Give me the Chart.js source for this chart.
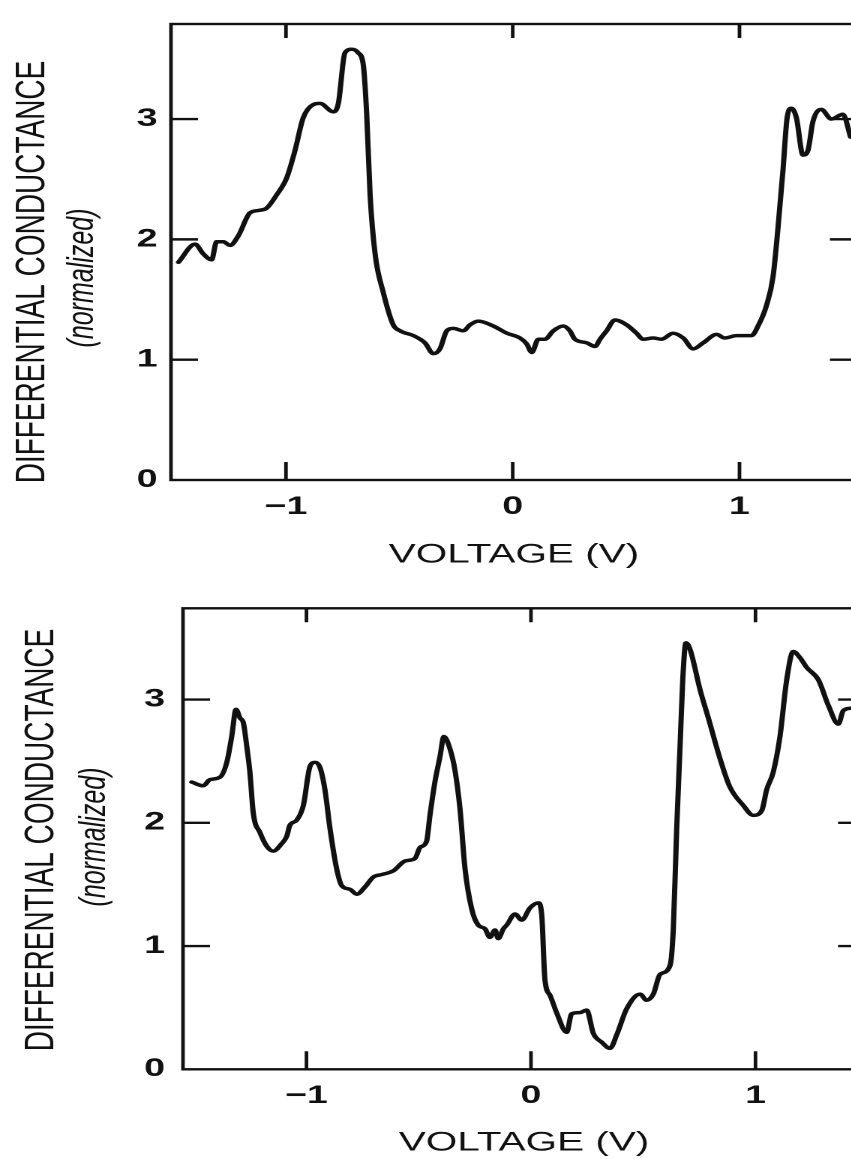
<!DOCTYPE html>
<html>
<head>
<meta charset="utf-8">
<script src="https://cdn.jsdelivr.net/npm/chart.js@4.4.1/dist/chart.umd.min.js"></script>
<style>
  html, body { margin: 0; padding: 0; background: #fff; overflow: hidden; width: 851px; height: 1159px; }
  canvas { position: absolute; left: 0; }
</style>
</head>
<body>
<!-- the scanned figure is stretched sideways, so each canvas is drawn narrow and widened by css -->
<canvas id="topChart" width="600" height="580" style="top:0;width:900px;height:580px"></canvas>
<canvas id="bottomChart" width="600" height="579" style="top:580px;width:900px;height:579px"></canvas>
<script>
const xTickValues = [-1, 0, 1];
const yTickValues = [0, 1, 2, 3];

// upper panel: voltage (V) and normalized differential conductance
const topVoltage = [
  -1.474, -1.401, -1.365, -1.328, -1.306, -1.276, -1.247, -1.210, -1.159, -1.122,
  -1.085, -1.041, -0.997, -0.960, -0.924, -0.880, -0.850, -0.791, -0.769, -0.740,
  -0.710, -0.681, -0.659, -0.644, -0.629, -0.607, -0.571, -0.527, -0.497, -0.438,
  -0.387, -0.350, -0.321, -0.291, -0.262, -0.218, -0.188, -0.152, -0.086, -0.026,
  0.032, 0.062, 0.084, 0.113, 0.142, 0.179, 0.223, 0.252, 0.274, 0.326,
  0.363, 0.385, 0.414, 0.451, 0.502, 0.546, 0.575, 0.619, 0.656, 0.707,
  0.752, 0.796, 0.840, 0.899, 0.935, 0.987, 1.053, 1.082, 1.119, 1.148,
  1.170, 1.192, 1.210, 1.229, 1.251, 1.280, 1.302, 1.324, 1.361, 1.405,
  1.456, 1.490
];
const topConductance = [
  1.81, 1.96, 1.88, 1.83, 1.98, 1.98, 1.95, 2.03, 2.22, 2.24,
  2.26, 2.37, 2.51, 2.74, 3.01, 3.12, 3.13, 3.06, 3.13, 3.55,
  3.58, 3.55, 3.45, 3.04, 2.37, 1.88, 1.56, 1.29, 1.24, 1.20,
  1.14, 1.05, 1.09, 1.24, 1.26, 1.24, 1.29, 1.32, 1.28, 1.22,
  1.18, 1.13, 1.06, 1.17, 1.17, 1.24, 1.28, 1.24, 1.17, 1.14,
  1.11, 1.17, 1.24, 1.33, 1.29, 1.22, 1.17, 1.18, 1.17, 1.22,
  1.18, 1.09, 1.14, 1.21, 1.18, 1.20, 1.20, 1.28, 1.45, 1.69,
  2.10, 2.58, 3.01, 3.09, 3.01, 2.70, 2.74, 2.98, 3.08, 3.00,
  3.04, 2.85
];

// lower panel
const bottomVoltage = [
  -1.511, -1.460, -1.430, -1.385, -1.355, -1.333, -1.314, -1.296, -1.281, -1.266,
  -1.252, -1.237, -1.207, -1.177, -1.148, -1.111, -1.088, -1.074, -1.044, -1.014,
  -0.984, -0.962, -0.940, -0.918, -0.895, -0.866, -0.843, -0.806, -0.776, -0.739,
  -0.702, -0.665, -0.613, -0.561, -0.517, -0.494, -0.465, -0.450, -0.428, -0.405,
  -0.388, -0.361, -0.339, -0.316, -0.294, -0.264, -0.235, -0.205, -0.183, -0.160,
  -0.146, -0.123, -0.108, -0.071, -0.041, -0.004, 0.033, 0.048, 0.062, 0.085,
  0.114, 0.159, 0.181, 0.218, 0.248, 0.278, 0.315, 0.352, 0.382, 0.426,
  0.486, 0.515, 0.545, 0.575, 0.619, 0.634, 0.649, 0.664, 0.676, 0.690,
  0.708, 0.753, 0.790, 0.842, 0.886, 0.946, 0.990, 1.028, 1.050, 1.079,
  1.109, 1.139, 1.168, 1.198, 1.228, 1.280, 1.325, 1.369, 1.391, 1.425
];
const bottomConductance = [
  2.33, 2.30, 2.35, 2.37, 2.49, 2.70, 2.92, 2.85, 2.81, 2.62,
  2.41, 2.08, 1.92, 1.81, 1.77, 1.83, 1.89, 1.98, 2.02, 2.14,
  2.46, 2.49, 2.45, 2.27, 1.95, 1.63, 1.49, 1.46, 1.42, 1.48,
  1.56, 1.58, 1.61, 1.69, 1.71, 1.80, 1.85, 2.06, 2.33, 2.54,
  2.70, 2.60, 2.43, 2.11, 1.63, 1.30, 1.17, 1.14, 1.07, 1.13,
  1.06, 1.14, 1.17, 1.26, 1.21, 1.31, 1.35, 1.25, 0.73, 0.60,
  0.46, 0.30, 0.45, 0.46, 0.48, 0.29, 0.22, 0.17, 0.28, 0.49,
  0.61, 0.56, 0.61, 0.77, 0.84, 1.14, 1.95, 2.62, 3.16, 3.46,
  3.41, 3.08, 2.85, 2.52, 2.29, 2.14, 2.06, 2.10, 2.27, 2.41,
  2.70, 3.16, 3.39, 3.34, 3.26, 3.16, 2.95, 2.80, 2.91, 2.93
];

const FONT = '"Liberation Sans", Arial, Helvetica, sans-serif';
const INK = '#111';

// box round the plot, inward ticks on all four sides, two-line y title
const framePlugin = {
  id: 'frame',
  afterDraw(chart, args, opts) {
    const { ctx, chartArea: a, scales: { x, y } } = chart;
    ctx.save();
    ctx.strokeStyle = INK;
    ctx.lineWidth = 2.4;
    ctx.strokeRect(a.left, a.top, a.right - a.left, a.bottom - a.top);
    ctx.beginPath();
    xTickValues.forEach(v => {
      const px = x.getPixelForValue(v);
      ctx.moveTo(px, a.bottom); ctx.lineTo(px, a.bottom - 18);
      ctx.moveTo(px, a.top); ctx.lineTo(px, a.top + 14);
    });
    yTickValues.forEach(v => {
      if (v === 0) return;
      const py = y.getPixelForValue(v);
      ctx.moveTo(a.left, py); ctx.lineTo(a.left + 18, py);
      ctx.moveTo(a.right, py); ctx.lineTo(a.right - 18, py);
    });
    ctx.stroke();

    ctx.fillStyle = INK;
    ctx.textAlign = 'center';
    ctx.textBaseline = 'middle';
    ctx.translate(opts.titleX, opts.titleY);
    ctx.rotate(-Math.PI / 2);
    ctx.font = '28px ' + FONT;
    ctx.fillText('DIFFERENTIAL CONDUCTANCE', 0, 0);
    ctx.rotate(Math.PI / 2);
    ctx.translate(opts.subX - opts.titleX, opts.subY - opts.titleY);
    ctx.rotate(-Math.PI / 2);
    ctx.font = 'italic 25px ' + FONT;
    ctx.fillText('(normalized)', 0, 0);
    ctx.restore();
  }
};

function makePanel(id, volts, cond, cfg) {
  const points = volts.map((v, i) => ({ x: v, y: cond[i] }));
  return new Chart(document.getElementById(id), {
    type: 'line',
    data: {
      datasets: [{
        data: points,
        borderColor: INK,
        borderWidth: 3.5,
        borderJoinStyle: 'round',
        borderCapStyle: 'round',
        pointRadius: 0,
        cubicInterpolationMode: 'monotone',
        fill: false
      }]
    },
    options: {
      responsive: false,
      devicePixelRatio: 2,
      animation: false,
      layout: { padding: { top: cfg.padTop, right: cfg.padRight, left: 0, bottom: 0 } },
      plugins: {
        legend: { display: false },
        tooltip: { enabled: false },
        frame: cfg.frame
      },
      scales: {
        x: {
          type: 'linear',
          min: cfg.xMin,
          max: cfg.xMax,
          grid: { display: false, drawTicks: false },
          border: { display: false },
          afterBuildTicks: s => { s.ticks = xTickValues.map(v => ({ value: v })); },
          afterFit: s => { s.height = cfg.xHeight; },
          ticks: {
            padding: 12,
            color: INK,
            font: { family: FONT, size: 25, weight: 'bold' },
            callback: v => (v < 0 ? '\u2212' + Math.abs(v) : String(v))
          },
          title: {
            display: true,
            text: 'VOLTAGE (V)',
            color: INK,
            font: { family: FONT, size: 27 },
            padding: { top: 0, bottom: cfg.titlePad }
          }
        },
        y: {
          type: 'linear',
          min: 0,
          max: cfg.yMax,
          grid: { display: false, drawTicks: false },
          border: { display: false },
          afterBuildTicks: s => { s.ticks = yTickValues.map(v => ({ value: v })); },
          afterFit: s => { s.width = cfg.yWidth; },
          ticks: {
            padding: cfg.yPad,
            color: INK,
            font: { family: FONT, size: 25, weight: 'bold' }
          }
        }
      }
    },
    plugins: [framePlugin]
  });
}

makePanel('topChart', topVoltage, topConductance, {
  padTop: 10, padRight: 28.7, xHeight: 100, yWidth: 114, yPad: 9, titlePad: 9,
  xMin: -1.507, xMax: 1.518, yMax: 3.79,
  frame: { titleX: 22, titleY: 272, subX: 55, subY: 278 }
});

makePanel('bottomChart', bottomVoltage, bottomConductance, {
  padTop: 28.3, padRight: 23.3, xHeight: 89.7, yWidth: 122, yPad: 12, titlePad: 0,
  xMin: -1.55, xMax: 1.488, yMax: 3.74,
  frame: { titleX: 28, titleY: 260, subX: 63, subY: 257 }
});
</script>
</body>
</html>
